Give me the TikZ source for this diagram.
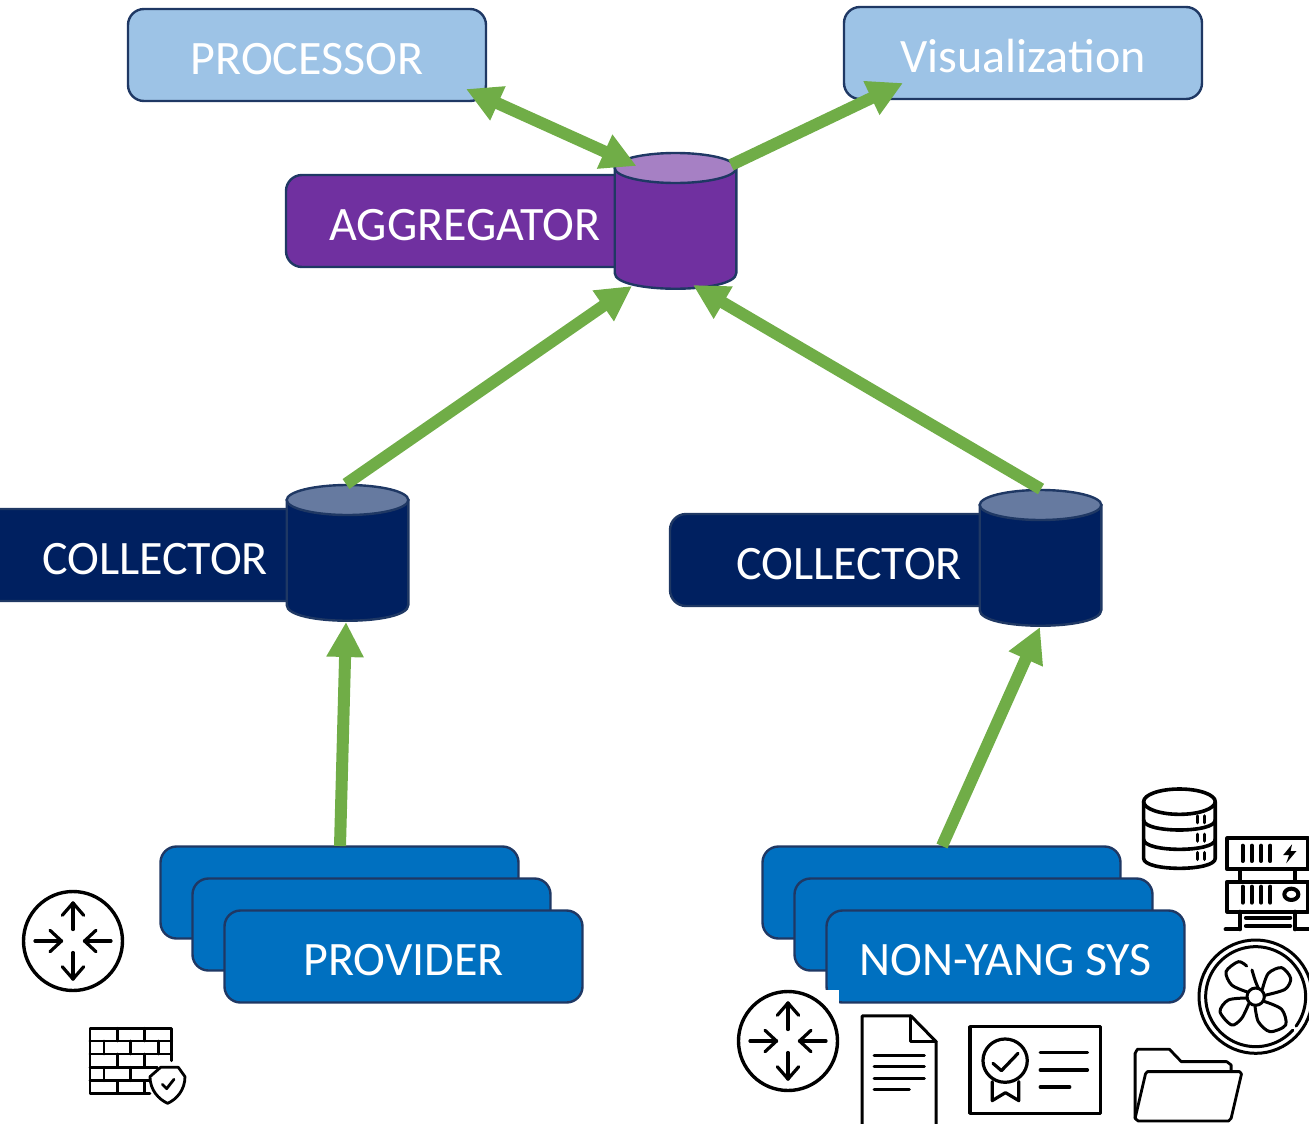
\documentclass[tikz,border=0pt]{standalone}
\usepackage{fontspec}
\setmainfont{Carlito}
\usetikzlibrary{arrows.meta}
\definecolor{edgeblue}{HTML}{1F3864}
\definecolor{lightb}{HTML}{9DC3E6}
\definecolor{purp}{HTML}{7030A0}
\definecolor{purpcap}{HTML}{A680C4}
\definecolor{navy}{HTML}{002060}
\definecolor{navycap}{HTML}{667AA0}
\definecolor{midblue}{HTML}{0070C0}
\definecolor{flowgreen}{HTML}{70AD47}
\tikzset{
  box/.style={draw=edgeblue,line width=2.4pt,rounded corners=16pt,minimum width=358pt,minimum height=92pt,inner sep=0pt,
    font=\fontsize{48}{48}\selectfont,text=white,text height=39pt,text depth=0pt},
  drumframe/.style={minimum width=123pt,minimum height=138pt,inner sep=0pt},
  flow/.style={draw=flowgreen,line width=12pt,-{Triangle[length=35pt,width=35pt]}},
  flowboth/.style={draw=flowgreen,line width=12pt,{Triangle[length=35pt,width=35pt]}-{Triangle[length=35pt,width=35pt]}},
  thinicon/.style={draw=black,line width=2.8pt,line cap=round,line join=round}
}
\newcommand{\routericon}[2]{%
  \begin{scope}[shift={(#1,#2)},thinicon,line width=3.2pt]
    \draw[line width=3.4pt] (0,0) circle (49.5);
    \foreach \a in {0,180}{
      \begin{scope}[rotate=\a]
        \draw (0,-11.5) -- (0,-38);
        \draw (-10.7,-25.7) -- (0,-38) -- (10.7,-25.7);
      \end{scope}}
    \foreach \a in {90,270}{
      \begin{scope}[rotate=\a]
        \draw (0,-38) -- (0,-11.5);
        \draw (-10.7,-23) -- (0,-11.5) -- (10.7,-23);
      \end{scope}}
  \end{scope}}
\newcommand{\drumshape}[3]{% node name, body colour, cap colour
  \begin{scope}[shift={(#1.center)}]
    \filldraw[draw=edgeblue,line width=2.4pt,fill=#2] (-60.8,-53) -- (-60.8,52) .. controls (-60.8,73) and (60.8,73) .. (60.8,52) -- (60.8,-53) -- cycle;
    \filldraw[draw=edgeblue,line width=2.4pt,fill=#3] (0,-53) ellipse (60.8 and 15);
  \end{scope}}
\begin{document}
\begin{tikzpicture}[x=1pt,y=-1pt]
\useasboundingbox (0,0) rectangle (1309,1124);
% top boxes
\node[box,fill=lightb] (proc) at (307,55) {PROCESSOR};
\node[box,fill=lightb] (vis) at (1023,53) {Visualization};
% aggregator
\node[box,fill=purp] (aggbox) at (465,221) {AGGREGATOR};
\node[drumframe] (agg) at (675.5,221) {};
\drumshape{agg}{purp}{purpcap}
% collectors
\node[box,fill=navy] (colbox1) at (155,555) {COLLECTOR};
\node[drumframe] (col1) at (347.5,553) {};
\drumshape{col1}{navy}{navycap}
\node[box,fill=navy] (colbox2) at (849,560) {COLLECTOR};
\node[drumframe] (col2) at (1040.5,558) {};
\drumshape{col2}{navy}{navycap}
% provider stack
\node[box,fill=midblue] (prov1) at (339.5,892.5) {};
\node[box,fill=midblue] (prov2) at (371.5,924.5) {};
\node[box,fill=midblue] (prov3) at (403.5,956.5) {\raisebox{0.7pt}{PROVIDER}};
% non-yang stack
\node[box,fill=midblue] (sys1) at (941.5,892.5) {};
\node[box,fill=midblue] (sys2) at (973.5,924.5) {};
\node[box,fill=midblue] (sys3) at (1005.5,956.5) {\raisebox{0.7pt}{NON-YANG SYS}};
% connectors
\draw[flowboth] ([shift={(-39,-55)}]agg.center) -- ([shift={(159,34)}]proc.center);
\draw[flow] ([shift={(55.5,-56)}]agg.center) -- ([shift={(-120,30)}]vis.center);
\draw[flow] ([shift={(-1.5,-69)}]col1.center) -- ([shift={(-43.5,65)}]agg.center);
\draw[flow] ([shift={(0.5,-69)}]col2.center) -- ([shift={(17.5,64)}]agg.center);
\draw[flow] ([shift={(0.5,-46.5)}]prov1.center) -- ([shift={(-1.5,69)}]col1.center);
\draw[flow] ([shift={(0.5,-46.5)}]sys1.center) -- ([shift={(-0.5,69)}]col2.center);
% white patch of the router picture
\fill[white] (735,990) rectangle (839,1095);
% routers
\routericon{73}{941}
\routericon{788}{1041}
% firewall
\begin{scope}[shift={(0,850)},x=0.3333pt,y=-0.3333pt,thinicon]
  \draw (450,730) -- (270,730) -- (270,535) -- (515,535) -- (515,632);
  \draw (270,573) -- (515,573) (270,612) -- (515,612) (270,652) -- (472,652) (270,692) -- (450,692);
  \draw (352,535) -- (352,573) (434,535) -- (434,573);
  \draw (312,573) -- (312,612) (392,573) -- (392,612) (475,573) -- (475,612);
  \draw (352,612) -- (352,652) (434,612) -- (434,652);
  \draw (312,652) -- (312,692) (392,652) -- (392,692);
  \draw (352,692) -- (352,730) (434,692) -- (434,730);
  \draw (482,652) -- (535,652) -- (555,680) .. controls (555,720) and (530,748) .. (503,760) .. controls (476,748) and (450,720) .. (450,680) -- cycle;
  \draw (487,703) -- (500,716) -- (522,688);
\end{scope}
% right-hand icons, in a frame of 2.708 x 3 units per pixel
\begin{scope}[shift={(730,780)},x=0.3693pt,y=-0.3333pt]
  % database
  \begin{scope}[thinicon,line width=3.6pt]
    \draw (1217,65) ellipse (97 and 38);
    \draw (1120,65) -- (1120,235) .. controls (1120,275) and (1314,275) .. (1314,235) -- (1314,65);
    \draw (1120,120) .. controls (1120,160) and (1314,160) .. (1314,120);
    \draw (1120,178) .. controls (1120,218) and (1314,218) .. (1314,178);
    \foreach \y in {108,163,218}{
      \draw (1266,\y) -- (1266,\y+20) (1285,\y) -- (1285,\y+20);}
  \end{scope}
  % server rack
  \begin{scope}[thinicon,line width=4pt]
    \draw (1347,175) rectangle (1566,268);
    \draw (1347,305) rectangle (1566,395);
    \draw (1380,268) -- (1380,305) (1530,268) -- (1530,305);
    \draw (1380,395) -- (1380,448) (1530,395) -- (1530,448);
    \draw (1342,448) -- (1380,448) (1530,448) -- (1566,448);
    \draw (1397,413) -- (1517,413) (1397,438) -- (1517,438);
    \foreach \x in {1388,1413,1438,1463}{
      \draw (\x,197) -- (\x,243) (\x,320) -- (\x,368);}
    \fill[black] (1522,193) -- (1498,225) -- (1514,225) -- (1506,250) -- (1534,213) -- (1518,213) -- cycle;
    \draw[line width=4pt] (1520,343) ellipse (19 and 17);
  \end{scope}
  % document
  \begin{scope}[thinicon,line width=3pt]
    \draw (358,1040) -- (358,708) -- (490,708) -- (558,785) -- (558,1040);
    \draw (490,708) -- (490,785) -- (558,785);
    \draw (390,828) -- (526,828) (390,861) -- (526,861) (390,895) -- (526,895) (390,928) -- (486,928);
  \end{scope}
  % certificate
  \begin{scope}[thinicon,line width=3.2pt]
    \draw (650,740) rectangle (1003,1000);
    \draw (745,842) ellipse (60 and 65);
    \draw (712,850) -- (735,872) -- (780,820);
    \draw (710,905) -- (710,962) -- (746,938) -- (782,962) -- (782,905);
    \draw (840,818) -- (968,818) (840,870) -- (968,870) (840,921) -- (920,921);
  \end{scope}
  % folder
  \begin{scope}[thinicon,line width=2.8pt]
    \draw (1097,1015) -- (1097,820) -- (1103,808) -- (1190,808) -- (1222,845) -- (1345,845) -- (1357,855) -- (1357,875);
    \draw (1130,875) -- (1380,875) -- (1385,882) -- (1357,1015) -- (1350,1023) -- (1105,1023) -- (1097,1015) -- (1125,882) -- cycle;
  \end{scope}
\end{scope}
% fan
\begin{scope}[shift={(1190,930)},x=0.3333pt,y=-0.3333pt,thinicon,line width=3pt]
  \draw (197,200) circle (170);
  \draw plot[smooth,samples=60,domain=-42:312,variable=\t] ({197+150*cos(\t+84)},{200+150*sin(\t+84)});
  \draw (197,200) circle (26);
  \draw plot[smooth] coordinates {(172,186) (125,165) (108,125) (145,95) (170,108)};
  \draw plot[smooth] coordinates {(186,120) (195,150) (205,175)};
  \draw plot[smooth] coordinates {(217,178) (235,130) (275,113) (302,145) (285,178) (224,196)};
  \draw plot[smooth] coordinates {(222,214) (275,238) (287,285) (240,305) (205,275) (195,228)};
  \draw plot[smooth] coordinates {(172,204) (115,210) (90,245) (125,285) (155,265) (176,222)};
\end{scope}
\end{tikzpicture}
\end{document}
